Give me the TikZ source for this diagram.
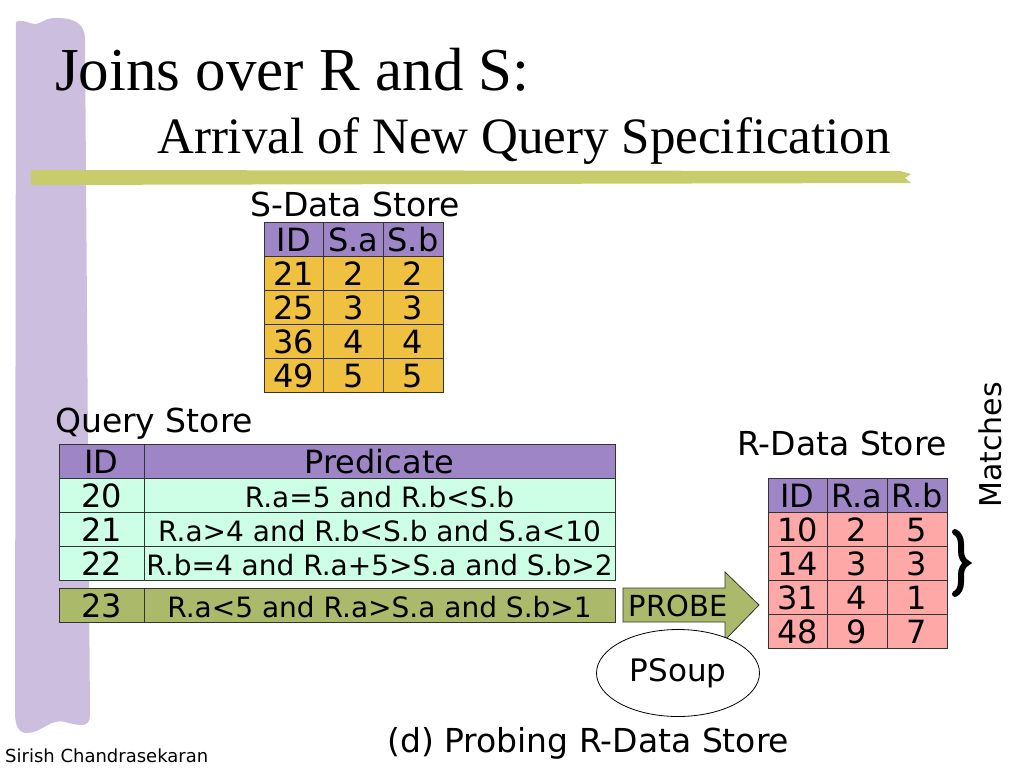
\documentclass[tikz,border=0pt]{standalone}
\usepackage{fontspec}
\setmainfont{DejaVu Sans}
\newfontfamily\titlefont{Liberation Serif}
\usetikzlibrary{decorations.pathreplacing,shapes.geometric}
\definecolor{barpurple}{RGB}{203,190,222}
\definecolor{barolive}{RGB}{200,204,106}
\definecolor{hdrpurple}{RGB}{158,134,198}
\definecolor{sorange}{RGB}{240,192,64}
\definecolor{qmint}{RGB}{204,255,230}
\definecolor{qolive}{RGB}{170,186,106}
\definecolor{rpink}{RGB}{255,168,168}
\begin{document}
\begin{tikzpicture}[x=1pt,y=-1pt,
  cell/.style={draw=black!80, line width=0.8pt, minimum height=34pt, inner sep=0pt, text height=24pt, text depth=0pt, font=\fontsize{32}{36}\selectfont},
  shdr/.style={cell, fill=hdrpurple, minimum width=60pt},
  sdat/.style={cell, fill=sorange, minimum width=60pt},
  rdat/.style={cell, fill=rpink, minimum width=60pt},
  qid/.style={cell, minimum width=85pt},
  qpred/.style={cell, minimum width=471pt, font=\fontsize{28}{32}\selectfont},
  label/.style={inner sep=0pt, font=\fontsize{33}{40}\selectfont}]
\useasboundingbox (0,0) rectangle (1024,768);
\fill[barpurple] (16,22) .. controls (24,18) and (30,25) .. (36,24) .. controls (44,22) and (46,17) .. (60,18) .. controls (80,19) and (85,28) .. (85,40) -- (90,715) .. controls (90,728) and (80,726) .. (65,722) .. controls (50,718) and (42,733) .. (27,733) .. controls (18,733) and (15,725) .. (15,712) -- cycle;
\fill[barolive] (31,170) -- (900,171) -- (911,174) -- (905,178) -- (911,183) -- (31,185) -- cycle;
\node[anchor=base west, inner sep=0pt, font=\titlefont\fontsize{61}{70}\selectfont] (title) at (55,90) {Joins over R and S:};
\node[anchor=base west, inner sep=0pt, font=\titlefont\fontsize{51}{60}\selectfont] (subtitle) at (157,153) {Arrival of New Query Specification};
\node[label, anchor=base] (slabel) at (355,216) {S-Data Store};
\node[shdr] (s00) at (294,239) {ID};
\node[shdr] (s01) at (353.5,239) {S.a};
\node[shdr] (s02) at (413,239) {S.b};
\node[sdat] (s10) at (294,273) {21};
\node[sdat] (s11) at (353.5,273) {2};
\node[sdat] (s12) at (413,273) {2};
\node[sdat] (s20) at (294,307) {25};
\node[sdat] (s21) at (353.5,307) {3};
\node[sdat] (s22) at (413,307) {3};
\node[sdat] (s30) at (294,341) {36};
\node[sdat] (s31) at (353.5,341) {4};
\node[sdat] (s32) at (413,341) {4};
\node[sdat] (s40) at (294,375) {49};
\node[sdat] (s41) at (353.5,375) {5};
\node[sdat] (s42) at (413,375) {5};
\node[label, anchor=base west] (qlabel) at (55,432) {Query Store};
\node[qid, fill=hdrpurple] (q00) at (101.5,461) {ID};
\node[qpred, fill=hdrpurple, font=\fontsize{32}{36}\selectfont] (q01) at (379.5,461) {Predicate};
\node[qid, fill=qmint] (q10) at (101.5,495) {20};
\node[qpred, fill=qmint] (q11) at (379.5,495) {R.a=5 and R.b<S.b};
\node[qid, fill=qmint] (q20) at (101.5,529) {21};
\node[qpred, fill=qmint] (q21) at (379.5,529) {R.a>4 and R.b<S.b and S.a<10};
\node[qid, fill=qmint] (q30) at (101.5,563) {22};
\node[qpred, fill=qmint] (q31) at (379.5,563) {R.b=4 and R.a+5>S.a and S.b>2};
\node[qid, fill=qolive] (q40) at (101.5,605.5) {23};
\node[qpred, fill=qolive] (q41) at (379.5,605.5) {R.a<5 and R.a>S.a and S.b>1};
\filldraw[fill=qolive, draw=black!80, line width=0.8pt] (623,588) -- (725,588) -- (725,572) -- (759,605) -- (725,640) -- (725,622) -- (623,622) -- cycle;
\node[inner sep=0pt, font=\fontsize{29}{34}\selectfont] (probe) at (678,606) {PROBE};
\node[ellipse, draw, line width=0.8pt, fill=white, minimum width=163pt, minimum height=87pt, font=\fontsize{31}{36}\selectfont] (psoup) at (678,673) {PSoup};
\node[label, anchor=base west] (rlabel) at (737,455) {R-Data Store};
\node[shdr, minimum width=59pt] (r00) at (797.5,495) {ID};
\node[shdr] (r01) at (857,495) {R.a};
\node[shdr] (r02) at (917,495) {R.b};
\node[rdat, minimum width=59pt] (r10) at (797.5,529) {10};
\node[rdat] (r11) at (857,529) {2};
\node[rdat] (r12) at (917,529) {5};
\node[rdat, minimum width=59pt] (r20) at (797.5,563) {14};
\node[rdat] (r21) at (857,563) {3};
\node[rdat] (r22) at (917,563) {3};
\node[rdat, minimum width=59pt] (r30) at (797.5,597) {31};
\node[rdat] (r31) at (857,597) {4};
\node[rdat] (r32) at (917,597) {1};
\node[rdat, minimum width=59pt] (r40) at (797.5,631) {48};
\node[rdat] (r41) at (857,631) {9};
\node[rdat] (r42) at (917,631) {7};
\coordinate (mtop) at (955,532);
\coordinate (mbot) at (955,594);
\draw[decorate, decoration={brace, amplitude=12pt}, line width=6pt, line cap=round] (mtop) -- (mbot);
\node[inner sep=0pt, rotate=90, font=\fontsize{30}{36}\selectfont] (matches) at (990,445) {Matches};
\node[label, anchor=base west] (caption) at (387,752) {(d) Probing R-Data Store};
\node[anchor=base west, inner sep=0pt, font=\fontsize{18}{22}\selectfont] (author) at (5,762) {Sirish Chandrasekaran};
\end{tikzpicture}
\end{document}
